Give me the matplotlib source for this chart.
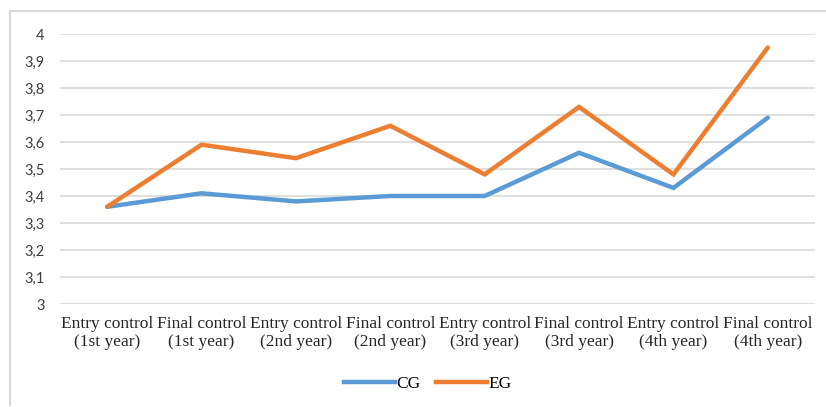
import matplotlib
matplotlib.use("Agg")
import matplotlib.pyplot as plt
from matplotlib.lines import Line2D

categories = ["Entry control\n(1st year)", "Final control\n(1st year)",
              "Entry control\n(2nd year)", "Final control\n(2nd year)",
              "Entry control\n(3rd year)", "Final control\n(3rd year)",
              "Entry control\n(4th year)", "Final control\n(4th year)"]
cg = [3.36, 3.41, 3.38, 3.40, 3.40, 3.56, 3.43, 3.69]
eg = [3.36, 3.59, 3.54, 3.66, 3.48, 3.73, 3.48, 3.95]
yticks = [3.0, 3.1, 3.2, 3.3, 3.4, 3.5, 3.6, 3.7, 3.8, 3.9, 4.0]
ytick_labels = ["3", "3,1", "3,2", "3,3", "3,4", "3,5", "3,6", "3,7", "3,8", "3,9", "4"]

W, H = 826, 407
fig = plt.figure(figsize=(W / 100, H / 100), dpi=100)
ax = fig.add_axes([60 / W, 1 - 304 / H, (815 - 60) / W, (304 - 34) / H])

x = list(range(len(categories)))
ax.plot(x, cg, color="#5B9BD5", lw=3.2, solid_capstyle="round", solid_joinstyle="miter", label="CG", zorder=3)
ax.plot(x, eg, color="#ED7D31", lw=3.2, solid_capstyle="round", solid_joinstyle="miter", label="EG", zorder=3)

ax.set_xlim(-0.5, len(categories) - 0.5)
ax.set_ylim(3.0, 4.0)
ax.set_yticks(yticks)
ax.set_yticklabels(ytick_labels, fontfamily="Lato", fontsize=10.5, color="#404040")
ax.set_xticks(x)
ax.set_xticklabels(categories, fontfamily="Liberation Serif", fontsize=12.5, color="#262626", linespacing=1.1)
ax.tick_params(axis="both", length=0)
ax.tick_params(axis="y", pad=11)
ax.tick_params(axis="x", pad=9)
for s in ax.spines.values():
    s.set_visible(False)
ax.yaxis.grid(True, color="#D9D9D9", lw=1.2)
ax.set_axisbelow(True)

leg = fig.legend(handles=[Line2D([], [], color="#5B9BD5", lw=3.2),
                          Line2D([], [], color="#ED7D31", lw=3.2)],
                 labels=["CG", "EG"], loc="center", bbox_to_anchor=(428 / W, 1 - 384 / H),
                 ncol=2, frameon=False, handlelength=2.9, handletextpad=0.1, columnspacing=0.9,
                 prop={"family": "Liberation Serif", "size": 12.5})

# outer border (light gray)
fig.add_artist(Line2D([10 / W, 10 / W], [1 - 11 / H, 1 - 405 / H], transform=fig.transFigure, color="#D9D9D9", lw=1.5))
fig.add_artist(Line2D([10 / W, 1.0], [1 - 11 / H, 1 - 11 / H], transform=fig.transFigure, color="#D9D9D9", lw=1.5))

fig.savefig("out.png", dpi=100)
